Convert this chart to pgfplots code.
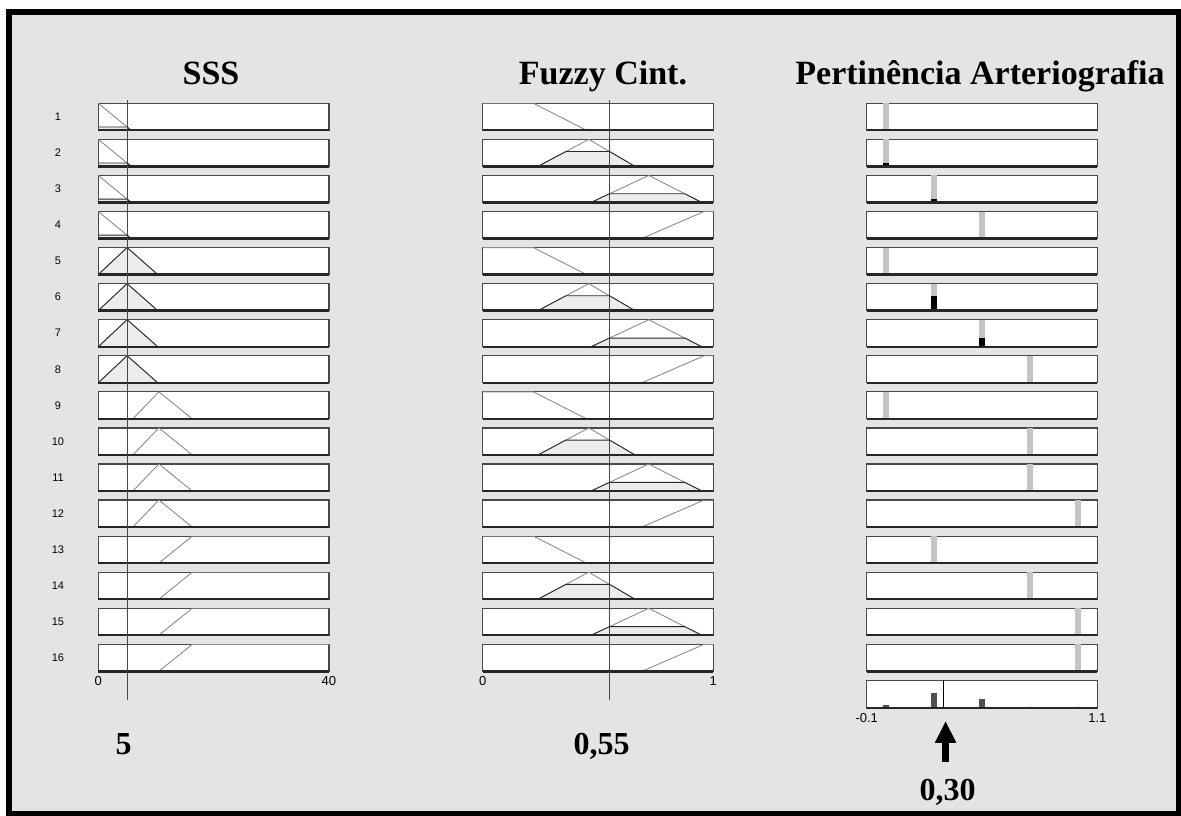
\documentclass[border=0pt]{standalone}
\usepackage{fontspec}
\setmainfont{Liberation Serif}
\newfontfamily\sansf{Liberation Sans}
\usepackage{pgfplots}
\pgfplotsset{compat=1.18}
\usepackage{pgfplotstable}
\usetikzlibrary{arrows.meta}

\definecolor{panelGray}{RGB}{228,228,228}
\definecolor{mfGray}{RGB}{140,140,140}
\definecolor{cutFill}{RGB}{236,236,236}
\definecolor{cutEdge}{RGB}{40,40,40}
\definecolor{boxEdge}{RGB}{72,72,72}
\definecolor{outGray}{RGB}{196,196,196}
\definecolor{aggGray}{RGB}{80,80,80}
\definecolor{inLine}{RGB}{70,70,70}

\newcommand{\titlefont}{\bfseries\fontsize{34}{40}\selectfont}
\newcommand{\valuefont}{\bfseries\fontsize{32}{38}\selectfont}
\newcommand{\rowfont}{\sansf\fontsize{11}{13}\selectfont}
\newcommand{\tickfont}{\sansf\fontsize{13}{15}\selectfont}

% ---- SSS membership functions (universe 0..40) ----
\pgfplotstableread{
x y
0 1
5.7 0
}\sssA
\pgfplotstableread{
x y
0 0
5 1
10.3 0
}\sssB
\pgfplotstableread{
x y
6 0
10.5 1
16.3 0
}\sssC
\pgfplotstableread{
x y
10.5 0
16.3 1
40 1
}\sssD
% areas under the degree reached at SSS = 5
\pgfplotstableread{
x y
0 0
0 0.123
5 0.123
5.7 0
}\sssAcut
\pgfplotstableread{
x y
0 0
5 1
10.3 0
}\sssBcut

% ---- Fuzzy Cint. membership functions (universe 0..1) ----
\pgfplotstableread{
x y
0 1
0.22 1
0.45 0
}\fzA
\pgfplotstableread{
x y
0.24 0
0.46 1
0.66 0
}\fzB
\pgfplotstableread{
x y
0.47 0
0.72 1
0.95 0
}\fzC
\pgfplotstableread{
x y
0.69 0
0.96 1
1 1
}\fzD
% areas under the degree reached at Fuzzy Cint. = 0.55
\pgfplotstableread{
x y
0.24 0
0.361 0.55
0.55 0.55
0.66 0
}\fzBcut
\pgfplotstableread{
x y
0.47 0
0.55 0.32
0.876 0.32
0.95 0
}\fzCcut

\pgfplotsset{
  rowbox/.style={scale only axis, width=230.6pt, height=27pt, anchor=south west,
    ymin=0, ymax=1, xtick=\empty, ytick=\empty,
    axis background/.style={fill=white},
    axis line style={draw=boxEdge, line width=1.2pt},
    extra description/.code={\draw[draw=black!85, line width=2.4pt] (0,0) -- (1,0);}},
  mf/.style={draw=mfGray, line width=0.9pt, mark=none},
  cut/.style={fill=cutFill, draw=cutEdge, line width=0.9pt, mark=none},
  outbar/.style={ycomb, draw=outGray, line width=6pt, mark=none},
  firebar/.style={ycomb, draw=black, line width=6pt, mark=none},
  lastrow/.style={major tick length=0pt,
    xticklabel style={font=\tickfont, yshift=-2pt}},
  overlay/.style={scale only axis, width=230.6pt, height=600pt, anchor=south west,
    ymin=0, ymax=1, hide axis, clip=false},
}

% one rule row of an input: [extra options]{left edge}{row}{xmin}{xmax}{plots}
\newcommand{\mfrow}[6][]{%
  \begin{axis}[rowbox, at={(#2pt,{685.7pt-(#3-1)*36.07pt})}, xmin=#4, xmax=#5, #1]
  #6
  \end{axis}}

% one rule row of the output: {row}{rule output}{firing strength}
\newcommand{\outrow}[3]{%
  \begin{axis}[rowbox, at={(866.7pt,{685.7pt-(#1-1)*36.07pt})}, xmin=-0.1, xmax=1.1]
  \addplot[outbar] coordinates {(#2,1)};
  \addplot[firebar] coordinates {(#2,#3)};
  \end{axis}}

\begin{document}
\begin{tikzpicture}[x=1pt, y=1pt]
\useasboundingbox (0,0) rectangle (1181,816);
\fill[white] (0,0) rectangle (1181,816);
\fill[black] (6,0) rectangle (1181,807);
\fill[panelGray] (11.5,5) rectangle (1176,801);

% column titles
\node[anchor=base, font=\titlefont] at (211,731) {SSS};
\node[anchor=base, font=\titlefont] at (603,731) {Fuzzy Cint.};
\node[anchor=base, font=\titlefont] at (980,731) {Pertinência Arteriografia};

% rule numbers
\foreach \i in {1,...,16}
  \node[font=\rowfont] at (58,{699.2-(\i-1)*36.07}) {\i};

% ---- SSS ----
\mfrow{98.3}{1}{0}{40}{\addplot[mf] table {\sssA}; \addplot[cut] table {\sssAcut};}
\mfrow{98.3}{2}{0}{40}{\addplot[mf] table {\sssA}; \addplot[cut] table {\sssAcut};}
\mfrow{98.3}{3}{0}{40}{\addplot[mf] table {\sssA}; \addplot[cut] table {\sssAcut};}
\mfrow{98.3}{4}{0}{40}{\addplot[mf] table {\sssA}; \addplot[cut] table {\sssAcut};}
\mfrow{98.3}{5}{0}{40}{\addplot[mf] table {\sssB}; \addplot[cut] table {\sssBcut};}
\mfrow{98.3}{6}{0}{40}{\addplot[mf] table {\sssB}; \addplot[cut] table {\sssBcut};}
\mfrow{98.3}{7}{0}{40}{\addplot[mf] table {\sssB}; \addplot[cut] table {\sssBcut};}
\mfrow{98.3}{8}{0}{40}{\addplot[mf] table {\sssB}; \addplot[cut] table {\sssBcut};}
\mfrow{98.3}{9}{0}{40}{\addplot[mf] table {\sssC};}
\mfrow{98.3}{10}{0}{40}{\addplot[mf] table {\sssC};}
\mfrow{98.3}{11}{0}{40}{\addplot[mf] table {\sssC};}
\mfrow{98.3}{12}{0}{40}{\addplot[mf] table {\sssC};}
\mfrow{98.3}{13}{0}{40}{\addplot[mf] table {\sssD};}
\mfrow{98.3}{14}{0}{40}{\addplot[mf] table {\sssD};}
\mfrow{98.3}{15}{0}{40}{\addplot[mf] table {\sssD};}
\mfrow[lastrow, xtick={0,40}, xticklabels={0,40}]{98.3}{16}{0}{40}{\addplot[mf] table {\sssD};}

% ---- Fuzzy Cint. ----
\mfrow{482.7}{1}{0}{1}{\addplot[mf] table {\fzA};}
\mfrow{482.7}{2}{0}{1}{\addplot[mf] table {\fzB}; \addplot[cut] table {\fzBcut};}
\mfrow{482.7}{3}{0}{1}{\addplot[mf] table {\fzC}; \addplot[cut] table {\fzCcut};}
\mfrow{482.7}{4}{0}{1}{\addplot[mf] table {\fzD};}
\mfrow{482.7}{5}{0}{1}{\addplot[mf] table {\fzA};}
\mfrow{482.7}{6}{0}{1}{\addplot[mf] table {\fzB}; \addplot[cut] table {\fzBcut};}
\mfrow{482.7}{7}{0}{1}{\addplot[mf] table {\fzC}; \addplot[cut] table {\fzCcut};}
\mfrow{482.7}{8}{0}{1}{\addplot[mf] table {\fzD};}
\mfrow{482.7}{9}{0}{1}{\addplot[mf] table {\fzA};}
\mfrow{482.7}{10}{0}{1}{\addplot[mf] table {\fzB}; \addplot[cut] table {\fzBcut};}
\mfrow{482.7}{11}{0}{1}{\addplot[mf] table {\fzC}; \addplot[cut] table {\fzCcut};}
\mfrow{482.7}{12}{0}{1}{\addplot[mf] table {\fzD};}
\mfrow{482.7}{13}{0}{1}{\addplot[mf] table {\fzA};}
\mfrow{482.7}{14}{0}{1}{\addplot[mf] table {\fzB}; \addplot[cut] table {\fzBcut};}
\mfrow{482.7}{15}{0}{1}{\addplot[mf] table {\fzC}; \addplot[cut] table {\fzCcut};}
\mfrow[lastrow, xtick={0,1}, xticklabels={0,1}]{482.7}{16}{0}{1}{\addplot[mf] table {\fzD};}

% ---- Pertinência Arteriografia: rule outputs and firing strengths ----
\outrow{1}{0}{0}
\outrow{2}{0}{0.123}
\outrow{3}{0.25}{0.123}
\outrow{4}{0.5}{0}
\outrow{5}{0}{0}
\outrow{6}{0.25}{0.55}
\outrow{7}{0.5}{0.32}
\outrow{8}{0.75}{0}
\outrow{9}{0}{0}
\outrow{10}{0.75}{0}
\outrow{11}{0.75}{0}
\outrow{12}{1}{0}
\outrow{13}{0.25}{0}
\outrow{14}{0.75}{0}
\outrow{15}{1}{0}
\outrow{16}{1}{0}

% aggregated output and its crisp value
\begin{axis}[rowbox, height=28pt, at={(866.7pt,107.7pt)}, xmin=-0.1, xmax=1.1,
  clip=false, lastrow, xtick={-0.1,1.1}, xticklabels={-0.1,1.1}]
  \addplot[ycomb, draw=aggGray, line width=6pt, mark=none]
    coordinates {(0,0.123) (0.25,0.55) (0.5,0.32)};
  \addplot[ycomb, draw=outGray, line width=1pt, mark=none]
    coordinates {(0.75,0.08) (1,0.08)};
  \addplot[black, line width=1.6pt, mark=none] coordinates {(0.30,0) (0.30,1)};
  \draw[line width=7pt, -{Triangle[width=20pt, length=22pt]}]
    ([xshift=2pt, yshift=-53.7pt]axis cs:0.30,0) -- ([xshift=2pt, yshift=-12.7pt]axis cs:0.30,0);
  \node[anchor=base, font=\valuefont] at ([xshift=4pt, yshift=-92pt]axis cs:0.30,0) {0,30};
\end{axis}

% input values
\begin{axis}[overlay, at={(98.3pt,116pt)}, xmin=0, xmax=40]
  \addplot[draw=inLine, line width=1.1pt, mark=none] coordinates {(5,0) (5,1)};
  \node[anchor=base, font=\valuefont] at ([xshift=-3.5pt, yshift=-55pt]axis cs:5,0) {5};
\end{axis}
\begin{axis}[overlay, at={(482.7pt,116pt)}, xmin=0, xmax=1]
  \addplot[draw=inLine, line width=1.1pt, mark=none] coordinates {(0.55,0) (0.55,1)};
  \node[anchor=base, font=\valuefont] at ([xshift=-8pt, yshift=-55pt]axis cs:0.55,0) {0,55};
\end{axis}
\end{tikzpicture}
\end{document}
